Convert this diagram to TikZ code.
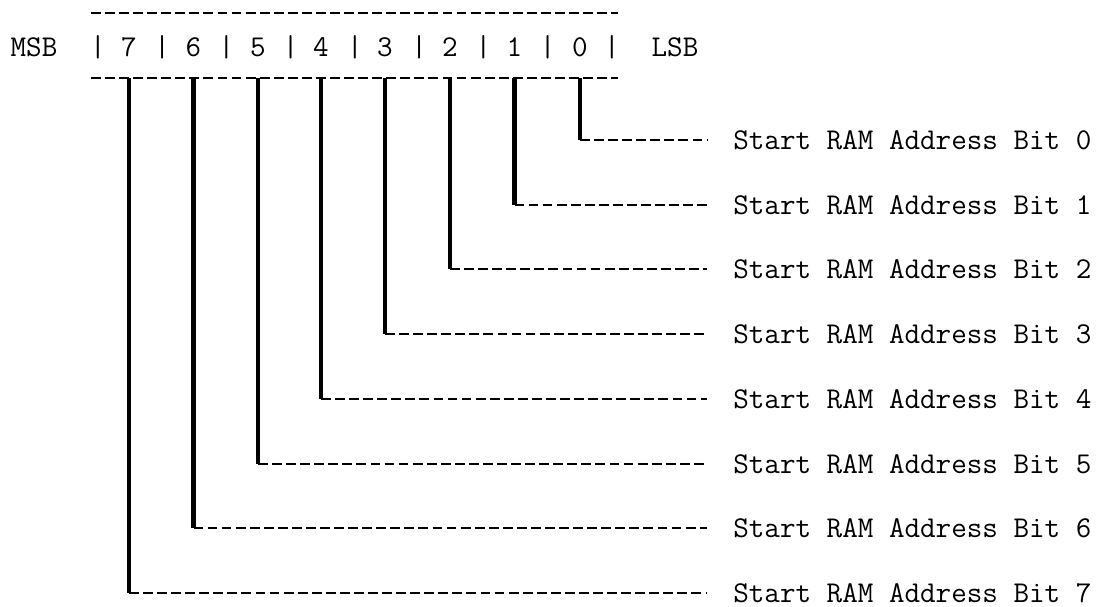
\documentclass[tikz,border=0pt]{standalone}
\usepackage{fontspec}
\usetikzlibrary{calc}

\begin{document}
\begin{tikzpicture}[x=0.025cm,y=-0.025cm,
  txt/.style={font=\ttfamily\addfontfeatures{FakeBold=1}\fontsize{21.5}{26}\selectfont, inner sep=0pt},
  rule/.style={line width=1.4pt, dash pattern=on 7pt off 3pt},
  lead/.style={line width=3pt},
  tail/.style={line width=1.5pt, dash pattern=on 7pt off 3pt},
  bitname/.style={txt, anchor=west, inner xsep=0.65cm}]
\useasboundingbox (0,0) rectangle (1103,606);

% register
\node [txt] (msb) at (34,47) {MSB};
\node [txt] (lsb) at (675,47) {LSB};
\draw [rule] (91,13)--(618,13);
\draw [rule] (91,78)--(618,78);
\coordinate (bot) at (0,78);

\node [txt] (s8) at (98,47) {|};
\node [txt] (s7) at (162.25,47) {|};
\node [txt] (s6) at (226.5,47) {|};
\node [txt] (s5) at (290.75,47) {|};
\node [txt] (s4) at (355,47) {|};
\node [txt] (s3) at (419.25,47) {|};
\node [txt] (s2) at (483.5,47) {|};
\node [txt] (s1) at (547.75,47) {|};
\node [txt] (s0) at (612,47) {|};

\node [txt] (d7) at (129,47) {7};
\node [txt] (d6) at (193.5,47) {6};
\node [txt] (d5) at (258,47) {5};
\node [txt] (d4) at (321,47) {4};
\node [txt] (d3) at (385,47) {3};
\node [txt] (d2) at (450,47) {2};
\node [txt] (d1) at (514.5,47) {1};
\node [txt] (d0) at (580,47) {0};

% bit names
\node [bitname] (n0) at (707,140) {Start RAM Address Bit 0};
\node [bitname] (n1) at (707,205) {Start RAM Address Bit 1};
\node [bitname] (n2) at (707,269) {Start RAM Address Bit 2};
\node [bitname] (n3) at (707,334) {Start RAM Address Bit 3};
\node [bitname] (n4) at (707,399) {Start RAM Address Bit 4};
\node [bitname] (n5) at (707,464) {Start RAM Address Bit 5};
\node [bitname] (n6) at (707,528) {Start RAM Address Bit 6};
\node [bitname] (n7) at (707,593) {Start RAM Address Bit 7};

% leads
\draw [lead] (d0 |- bot)--(d0 |- n0.west);
\draw [tail] (d0 |- n0.west)--(n0.west);
\draw [lead] (d1 |- bot)--(d1 |- n1.west);
\draw [tail] (d1 |- n1.west)--(n1.west);
\draw [lead] (d2 |- bot)--(d2 |- n2.west);
\draw [tail] (d2 |- n2.west)--(n2.west);
\draw [lead] (d3 |- bot)--(d3 |- n3.west);
\draw [tail] (d3 |- n3.west)--(n3.west);
\draw [lead] (d4 |- bot)--(d4 |- n4.west);
\draw [tail] (d4 |- n4.west)--(n4.west);
\draw [lead] (d5 |- bot)--(d5 |- n5.west);
\draw [tail] (d5 |- n5.west)--(n5.west);
\draw [lead] (d6 |- bot)--(d6 |- n6.west);
\draw [tail] (d6 |- n6.west)--(n6.west);
\draw [lead] (d7 |- bot)--(d7 |- n7.west);
\draw [tail] (d7 |- n7.west)--(n7.west);
\end{tikzpicture}
\end{document}
